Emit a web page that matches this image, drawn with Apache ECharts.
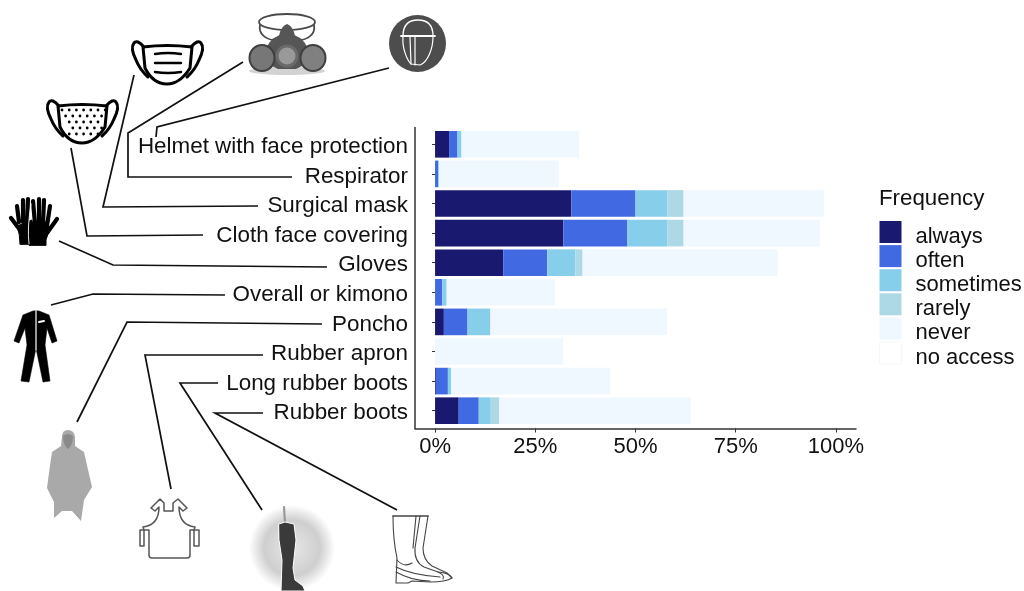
<!DOCTYPE html>
<html>
<head>
<meta charset="utf-8">
<title>PPE use frequency</title>
<style>
  html, body { margin: 0; padding: 0; background: #fff; }
  #chart { width: 1024px; height: 591px; }
</style>
<script src="https://cdn.jsdelivr.net/npm/echarts@6/dist/echarts.min.js"></script>
</head>
<body>
<div id="chart"></div>
<script>
const categories = ['Helmet with face protection', 'Respirator', 'Surgical mask', 'Cloth face covering', 'Gloves',
  'Overall or kimono', 'Poncho', 'Rubber apron', 'Long rubber boots', 'Rubber boots'];
const always = [3.5, 0, 34, 32, 17, 0, 2.2, 0, 0.2, 5.9];
const often = [2.1, 0.8, 16, 16, 11, 1.8, 5.9, 0, 3, 5];
const sometimes = [1, 0.2, 8, 10, 7, 1.1, 5.7, 0, 0.8, 3];
const rarely = [0, 0, 4, 4, 1.8, 0, 0, 0, 0, 2.1];
const never = [29.4, 29.9, 35, 34, 48.7, 27, 44.1, 32, 39.7, 47.8];
const noAccess = [64, 69.1, 3, 4, 14.5, 70.1, 42.1, 68, 56.3, 36.2];
const xTicks = [0, 25, 50, 75, 100];

const seriesList = [
  ['always', always, '#191970'],
  ['often', often, '#4169E1'],
  ['sometimes', sometimes, '#87CEEB'],
  ['rarely', rarely, '#ADD8E6'],
  ['never', never, '#F0F8FF'],
  ['no access', noAccess, '#FFFFFF'],
];

const fontName = '"Liberation Sans", Arial, sans-serif';
const black = '#111';

// leader lines from each icon to its label
const leaders = [
  [[389, 68], [157, 127], [156, 137]],
  [[243, 62], [128, 133], [128, 177], [292, 177]],
  [[134, 75], [103, 207], [258, 206]],
  [[71, 148], [87, 236], [203, 235]],
  [[59, 241], [113, 265], [327, 267]],
  [[51, 305], [93, 294], [225, 295]],
  [[77, 422], [127, 322], [322, 324]],
  [[171, 489], [145, 355], [263, 355]],
  [[262, 510], [180, 383], [218, 383]],
  [[397, 510], [215, 413], [263, 413]],
];

function line(points, stroke, width) {
  return { type: 'polyline', shape: { points: points }, style: { stroke: stroke, lineWidth: width, fill: null } };
}
// graphic has no plain path type, so each svg path gets registered as its own shape
let shapeCount = 0;
function path(d, fill, stroke, width) {
  const name = 'iconPath' + shapeCount++;
  echarts.graphic.registerShape(name, echarts.graphic.extendPath(d, {}));
  return {
    type: name,
    shape: {},
    style: { fill: fill, stroke: stroke, lineWidth: width || 1, lineCap: 'round', lineJoin: 'round' },
  };
}
function circle(cx, cy, r, fill, stroke, width) {
  return {
    type: 'circle',
    shape: { cx: cx, cy: cy, r: r },
    style: { fill: fill, stroke: stroke, lineWidth: width || 1 },
  };
}
function ellipse(cx, cy, rx, ry, fill, stroke, width) {
  return {
    type: 'ellipse',
    shape: { cx: cx, cy: cy, rx: rx, ry: ry },
    style: { fill: fill, stroke: stroke, lineWidth: width || 1 },
  };
}

function maskIcon(dx, dy) {
  return {
    type: 'group',
    x: dx,
    y: dy,
    children: [
      path('M143 47 Q167 44 192 47 L190 68 Q180 84 167 84 Q153 84 145 68 Z', '#fff', '#000', 3),
      path('M144 47 Q137 39 134 43 Q130 48 136 60 Q140 70 148 77', null, '#000', 3),
      path('M191 47 Q198 39 201 43 Q205 48 199 60 Q195 70 187 77', null, '#000', 3),
    ],
  };
}

function dots() {
  const out = [];
  for (let row = 0; row < 5; row++) {
    for (let col = 0; col < 7; col++) {
      const x = 62 + col * 7.2 + (row % 2 ? 3.6 : 0);
      const y = 110 + row * 6;
      if (x < 108 - row * 1.5 && x > 60 + row * 2) out.push(circle(x, y, 1.4, '#000', null, 0));
    }
  }
  return out;
}

const icons = [
  // helmet with face shield
  circle(417.5, 43.5, 28.5, '#4d4d4d', null, 0),
  path('M403 36 C403 24 410 20 418 20 C426 20 433 24 433 36', null, '#fff', 1.3),
  path('M401 36 L435 36', null, '#fff', 1.8),
  path('M403 37 C402 48 407 60 411 64 L420 65 C428 62 433 48 433 37', null, '#fff', 1.2),
  path('M410 37 L411 64 M415 37 L415 65', null, '#fff', 1.2),
  // respirator
  ellipse(287, 71, 38, 4, '#d2d2d2', null, 0),
  ellipse(287, 22, 28, 8, null, '#4a4a4a', 1.8),
  path('M260 25 Q258 36 272 40 Q283 35 287 30 Q291 35 302 40 Q316 36 314 25', null, '#4a4a4a', 1.8),
  path('M287 24 Q293 26 295 36 Q309 40 310 62 L296 69 L278 69 L264 62 Q265 40 279 36 Q281 26 287 24 Z', '#565656', null, 0),
  ellipse(262, 58, 12.5, 13, '#777', '#3f3f3f', 2),
  ellipse(313, 58, 12.5, 13, '#808080', '#3f3f3f', 2),
  circle(287, 56, 10, '#999', '#6a6a6a', 3),
  // surgical mask
  maskIcon(0, 0),
  path('M155 54 Q168 52 181 54 M155 63 L181 63 M155 72 Q168 74 181 72', null, '#000', 2.4),
  // cloth mask
  maskIcon(-85, 59),
].concat(dots(), [
  // gloves
  path('M20 244 Q20 234 17 226 L32 220 L32 244 Z', '#000', '#000', 1),
  path('M20 230 L11 218 M19 222 L17 206 M23 222 L23 200 M27 222 L28 199', null, '#000', 4.2),
  path('M29 245 Q28 232 32 222 L48 222 Q50 232 46 240 L46 245 Z', '#000', '#000', 1),
  path('M35 224 L33 201 M39 224 L39 199 M43 224 L44 200 M47 226 L50 206 M47 233 L57 219', null, '#000', 4.2),
  path('M29 244 Q27 228 31 204', null, '#fff', 0.9),
  // overall
  path('M33 311 L23 315 L14 341 L19 343 L25 328 L27 345 L21 381 L29 382 L36 348 L43 382 L50 381 L45 345 L47 328 L52 343 L57 341 L49 315 L39 311 Z', '#000', '#000', 0.6),
  path('M36 311 L36 350', null, '#fff', 1.2),
  path('M39 322 L44 321', null, '#fff', 1.8),
  // poncho
  path('M62 437 Q62 430 68 430 Q74 430 75 437 L75 446 L84 452 Q88 470 92 487 L84 500 L81 521 L72 511 L62 511 L54 518 L54 502 L47 488 Q50 465 52 452 L61 446 Z', '#a9a9a9', null, 0),
  path('M63 436 Q68 432 73 436 Q73 445 68 449 Q63 445 63 436 Z', '#8a8a8a', null, 0),
  // apron
  path('M164 503 L164 511 L173 511 L173 503 L178 499 L187 508 L183 511 L179 507 Q179 525 195 527 L194 530 L190 530 L190 555 Q190 558 187 558 L152 558 Q149 558 149 555 L149 530 L144 530 L143 527 Q159 525 159 507 L155 511 L151 508 L160 499 Z', null, '#555', 1.5),
  path('M140 530 L144 530 L144 546 L140 546 Z M194 530 L199 530 L199 546 L194 546 Z', null, '#555', 1.5),
  // long rubber boot
  {
    type: 'circle',
    shape: { cx: 292, cy: 548, r: 43 },
    style: {
      fill: {
        type: 'radial', x: 0.5, y: 0.5, r: 0.5,
        colorStops: [
          { offset: 0, color: '#e6e6e6' },
          { offset: 0.65, color: '#cfcfcf' },
          { offset: 1, color: '#ffffff' },
        ],
      },
    },
  },
  path('M284 507 L285 523', null, '#999', 2.2),
  path('M279 524 L285 522 L294 524 L296 540 L293 568 L295 580 L303 586 L305 591 L281 591 L282 560 L279 540 Z', '#3a3a3a', '#fff', 1),
  // rubber boots
  path('M393 516 L428 516', null, '#444', 1.6),
  path('M393 516 Q393 540 397 558 L396 583 L408 583 L412 581 L430 582 Q446 582 452 578 Q450 573 438 572', null, '#444', 1.1),
  path('M420 516 L415 548 Q414 562 424 567 L438 572 Q445 575 443 579', null, '#444', 1.1),
  path('M397 560 Q404 568 412 563 M396 567 Q412 575 440 577 M396 572 Q412 581 430 581', null, '#444', 1.1),
  path('M428 516 L423 548 Q423 560 432 566 L447 573 L452 578', null, '#444', 1.1),
  path('M416 516 L413 548', null, '#444', 1.1),
]);

const option = {
  animation: false,
  backgroundColor: '#fff',
  textStyle: { fontFamily: fontName },
  title: {
    text: 'Frequency',
    left: 879,
    top: 188,
    padding: 0,
    textStyle: { fontSize: 22.3, fontWeight: 'normal', color: black, fontFamily: fontName },
  },
  legend: {
    orient: 'vertical',
    left: 879,
    top: 221,
    padding: 0,
    itemWidth: 22,
    itemHeight: 22,
    itemGap: -2.9,
    icon: 'rect',
    selectedMode: false,
    formatter: '{a|{name}}',
    textStyle: {
      color: black,
      rich: { a: { fontSize: 22, color: black, fontFamily: fontName, padding: [10, 0, 0, 9] } },
    },
    data: seriesList.map((s) => ({
      name: s[0],
      itemStyle: s[0] === 'no access' ? { color: '#fff', borderColor: '#f4f8fb', borderWidth: 1 } : { color: s[2] },
    })),
  },
  grid: { left: 415, top: 129.5, width: 441, height: 296 },
  xAxis: {
    type: 'value',
    min: -5,
    max: 105,
    offset: 3,
    splitLine: { show: false },
    axisLine: { show: true, lineStyle: { color: '#333', width: 1.5 } },
    axisTick: { show: true, length: 4, customValues: xTicks, lineStyle: { color: '#333' } },
    axisLabel: {
      customValues: xTicks,
      formatter: '{value}%',
      fontSize: 22,
      margin: 7,
      color: black,
      fontFamily: fontName,
      hideOverlap: false,
    },
  },
  yAxis: {
    type: 'category',
    inverse: true,
    data: categories,
    axisLine: { show: false },
    axisTick: { show: true, alignWithLabel: true, length: 3, lineStyle: { color: '#333' } },
    axisLabel: {
      margin: 7,
      interval: 0,
      formatter: '{a|{value}}',
      rich: { a: { fontSize: 22.4, color: black, fontFamily: fontName, padding: [5, 0, 0, 0] } },
    },
  },
  series: seriesList.map((s) => ({
    name: s[0],
    type: 'bar',
    stack: 'freq',
    barWidth: '90%',
    data: s[1],
    itemStyle: { color: s[2] },
    emphasis: { disabled: true },
  })),
  graphic: { elements: [line([[415, 127], [415, 429]], '#333', 1.5)].concat(leaders.map((p) => line(p, black, 1.7)), icons) },
};

const myChart = echarts.init(document.getElementById('chart'), null, { renderer: 'canvas' });
myChart.setOption(option);
</script>
</body>
</html>
